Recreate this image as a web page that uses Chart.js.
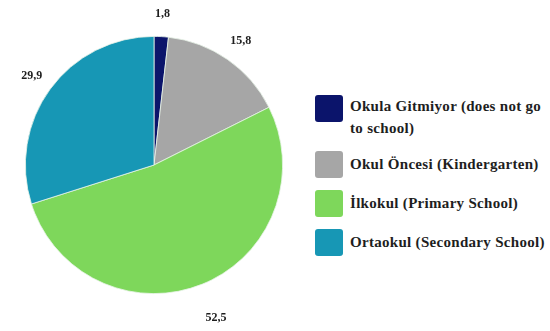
<!DOCTYPE html>
<html>
<head>
<meta charset="utf-8">
<script src="https://cdn.jsdelivr.net/npm/chart.js@4.4.0/dist/chart.umd.min.js"></script>
<style>
    body { margin: 0; background: #fff; }
    #wrap { position: relative; width: 550px; height: 331px; overflow: hidden; }
    #pie { position: absolute; left: 0; top: 0; }
    #legend { position: absolute; left: 315px; top: 95px; margin: 0; padding: 0; list-style: none;
        font-family: "Liberation Serif", "Times New Roman", serif; font-weight: bold; font-size: 15px;
        letter-spacing: 0.3px; color: #1e1e1e; }
    #legend li { display: flex; align-items: flex-start; min-height: 27px; margin-bottom: 12px; }
    #legend .box { flex: none; width: 28px; height: 27px; border-radius: 3px; margin-right: 7px; }
    #legend .txt { width: 205px; line-height: 22px; }
    #legend li.one .txt { line-height: 27px; white-space: nowrap; }
</style>
</head>
<body>
<div id="wrap">
    <canvas id="pie" width="300" height="331"></canvas>
    <ul id="legend"></ul>
</div>
<script>
const categories = ['Okula Gitmiyor (does not go to school)', 'Okul Öncesi  (Kindergarten)', 'İlkokul (Primary School)', 'Ortaokul (Secondary School)'];
const values = [1.8, 15.8, 52.5, 29.9];
const colors = ['#0b146b', '#a6a6a6', '#7ed75b', '#1797b5'];

document.getElementById('legend').innerHTML = categories.map((c, i) => {
    const cls = i === 0 ? '' : 'one';
    return `<li class="${cls}"><span class="box" style="background:${colors[i]}"></span><span class="txt">${c}</span></li>`;
}).join('');

const outsideLabels = {
    id: 'outsideLabels',
    afterDatasetsDraw(chart) {
        const ctx = chart.ctx;
        const meta = chart.getDatasetMeta(0);
        ctx.save();
        ctx.font = 'bold 12px "Liberation Serif", serif';
        ctx.fillStyle = '#1e1e1e';
        ctx.textAlign = 'center';
        ctx.textBaseline = 'middle';
        meta.data.forEach((arc, i) => {
            const mid = (arc.startAngle + arc.endAngle) / 2;
            const down = Math.max(0, Math.sin(mid));
            const d = arc.outerRadius + 23 + 14 * down;
            const x = arc.x + Math.cos(mid) * d;
            const y = arc.y + Math.sin(mid) * d;
            ctx.fillText(values[i].toFixed(1).replace('.', ','), x, y);
        });
        ctx.restore();
    }
};

new Chart(document.getElementById('pie'), {
    type: 'pie',
    data: {
        labels: categories,
        datasets: [{
            data: values,
            backgroundColor: colors,
            borderColor: '#e8f4e8',
            borderWidth: 0.8
        }]
    },
    options: {
        responsive: false,
        animation: false,
        devicePixelRatio: 1,
        layout: { padding: { left: 25, right: 17, top: 36, bottom: 37 } },
        plugins: {
            legend: { display: false },
            tooltip: { enabled: false }
        }
    },
    plugins: [outsideLabels]
});
</script>
</body>
</html>
